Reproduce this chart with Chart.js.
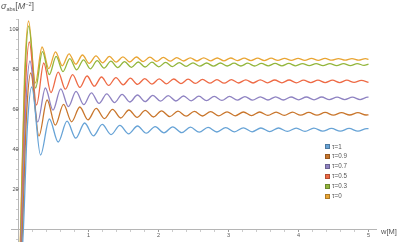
<!DOCTYPE html>
<html><head><meta charset="utf-8">
<script src="https://cdn.jsdelivr.net/npm/chart.js@4.4.1/dist/chart.umd.min.js"></script>
<style>
html,body{margin:0;padding:0;background:#fff;width:399px;height:242px;overflow:hidden;font-family:"Liberation Sans",Arial,sans-serif}
#wrap{position:relative;width:399px;height:242px}
#c{position:absolute;left:0;top:0}
.lbl{position:absolute;color:#555;white-space:nowrap;line-height:1}
.lbl sub,.lbl sup{font-size:5.5px;line-height:0}
.lbl sub{vertical-align:-1.5px}
.lbl sup{vertical-align:3.5px}
.leg{position:absolute;left:325px;height:6px;font-size:6.3px;color:#555;white-space:nowrap;line-height:6px}
.leg span{display:inline-block;width:5px;height:5px;vertical-align:top;margin-right:2px;margin-top:0.5px;box-sizing:border-box}
</style>
</head><body>
<div id="wrap">
<canvas id="c" width="399" height="242"></canvas>
<div class="lbl" style="left:1px;top:2px;font-size:9px"><i>σ</i><sub>abs</sub>[<i>M</i><sup>−2</sup>]</div>
<div class="lbl" style="left:381px;top:228px;font-size:7.5px">w[M]</div>
</div>
<script>
// Data: extrema of each curve, w in units 1/M
const legendLabels = ['τ=1','τ=0.9','τ=0.7','τ=0.5','τ=0.3','τ=0'];

const wTau1 = [0,0.070,0.125,0.189,0.315,0.441,0.567,0.693,0.819,0.945,1.071,1.196,1.322,1.448,1.574,1.700,1.826,1.952,2.078,2.204,2.330,2.456,2.582,2.708,2.834,2.960,3.086,3.212,3.337,3.463,3.589,3.715,3.841,3.967,4.093,4.219,4.345,4.471,4.597,4.723,4.849,4.975,5.0];
const sTau1 = [-40,0,50,71,37,55.0,43.5,53.9,45.4,53.0,46.6,52.3,47.2,51.8,47.6,51.5,47.9,51.2,48.1,51.1,48.2,50.9,48.4,50.8,48.5,50.7,48.6,50.6,48.6,50.5,48.7,50.5,48.8,50.4,48.8,50.4,48.9,50.3,48.9,50.3,48.9,50.2,50.2];

const wTau09 = [0,0.058,0.112,0.175,0.292,0.409,0.526,0.643,0.759,0.876,0.993,1.110,1.227,1.344,1.460,1.577,1.694,1.811,1.928,2.044,2.161,2.278,2.395,2.512,2.629,2.745,2.862,2.979,3.096,3.213,3.329,3.446,3.563,3.680,3.797,3.914,4.030,4.147,4.264,4.381,4.498,4.615,4.731,4.848,4.965,5.0];
const sTau09 = [-40,0,55,78,46.5,64.5,51.9,62.3,53.6,61.0,54.6,60.3,55.2,59.8,55.5,59.5,55.8,59.3,56.0,59.1,56.2,58.9,56.4,58.8,56.5,58.7,56.6,58.6,56.6,58.5,56.7,58.5,56.8,58.4,56.8,58.4,56.9,58.3,56.9,58.3,56.9,58.2,57.0,58.2,57.0,57.1];

const wTau07 = [0,0.048,0.103,0.164,0.274,0.384,0.493,0.603,0.713,0.822,0.932,1.042,1.151,1.261,1.371,1.480,1.590,1.700,1.809,1.919,2.029,2.138,2.248,2.358,2.467,2.577,2.686,2.796,2.906,3.015,3.125,3.235,3.344,3.454,3.564,3.673,3.783,3.893,4.002,4.112,4.222,4.331,4.441,4.551,4.660,4.770,4.879,4.989,5.0];
const sTau07 = [-40,0,60,84,53.5,70.5,59.4,70.1,61.2,68.8,62.2,68.1,62.8,67.6,63.2,67.3,63.5,67.0,63.7,66.8,63.9,66.7,64.0,66.5,64.1,66.4,64.2,66.3,64.3,66.3,64.4,66.2,64.4,66.1,64.5,66.1,64.5,66.0,64.6,66.0,64.6,66.0,64.7,65.9,64.7,65.9,64.7,65.9,65.88];

const wTau05 = [0,0.040,0.095,0.155,0.258,0.361,0.464,0.567,0.670,0.773,0.876,0.979,1.083,1.186,1.289,1.392,1.495,1.598,1.701,1.804,1.907,2.010,2.113,2.217,2.320,2.423,2.526,2.629,2.732,2.835,2.938,3.041,3.144,3.247,3.351,3.454,3.557,3.660,3.763,3.866,3.969,4.072,4.175,4.278,4.381,4.485,4.588,4.691,4.794,4.897,5.0];
const sTau05 = [-40,0,67,93.5,62,83.0,68.2,78.4,69.9,77.2,70.8,76.5,71.4,76.0,71.8,75.7,72.1,75.4,72.3,75.2,72.4,75.1,72.6,75.0,72.7,74.9,72.8,74.8,72.9,74.7,72.9,74.7,73.0,74.6,73.0,74.6,73.1,74.5,73.1,74.5,73.1,74.4,73.2,74.4,73.2,74.4,73.2,74.4,73.3,74.3,73.3];

const wTau03 = [0,0.033,0.088,0.147,0.244,0.342,0.440,0.538,0.635,0.733,0.831,0.929,1.026,1.124,1.222,1.320,1.417,1.515,1.613,1.711,1.808,1.906,2.004,2.102,2.199,2.297,2.395,2.493,2.590,2.688,2.786,2.884,2.981,3.079,3.177,3.275,3.372,3.470,3.568,3.666,3.763,3.861,3.959,4.057,4.154,4.252,4.350,4.448,4.545,4.643,4.741,4.839,4.936,5.0];
const sTau03 = [-40,0,73,101.5,70.5,88.7,77.2,86.3,78.7,85.2,79.6,84.6,80.1,84.2,80.4,83.9,80.7,83.7,80.8,83.5,81.0,83.4,81.1,83.3,81.2,83.2,81.3,83.1,81.4,83.0,81.4,83.0,81.5,82.9,81.5,82.9,81.5,82.8,81.6,82.8,81.6,82.8,81.6,82.7,81.7,82.7,81.7,82.7,81.7,82.7,81.7,82.7,81.8,82.4];

const wTau0 = [0,0.030,0.085,0.144,0.241,0.337,0.433,0.529,0.625,0.722,0.818,0.914,1.010,1.107,1.203,1.299,1.395,1.492,1.588,1.684,1.780,1.877,1.973,2.069,2.165,2.261,2.358,2.454,2.550,2.646,2.743,2.839,2.935,3.031,3.128,3.224,3.320,3.416,3.512,3.609,3.705,3.801,3.897,3.994,4.090,4.186,4.282,4.379,4.475,4.571,4.667,4.764,4.860,4.956,5.0];
const sTau0 = [-40,0,75,104,73,91,80.2,88.6,81.6,87.6,82.4,87.0,82.8,86.6,83.1,86.3,83.4,86.1,83.5,86.0,83.7,85.9,83.8,85.8,83.9,85.7,84.0,85.6,84.0,85.6,84.1,85.5,84.1,85.5,84.2,85.4,84.2,85.4,84.2,85.4,84.3,85.3,84.3,85.3,84.3,85.3,84.3,85.3,84.4,85.2,84.4,85.2,84.4,85.2,84.85];

// Styling
const seriesW = [wTau1,wTau09,wTau07,wTau05,wTau03,wTau0];
const seriesS = [sTau1,sTau09,sTau07,sTau05,sTau03,sTau0];
const colors = ['#67a3d6','#c9762c','#8f83c2','#ee6a45','#93b63c','#e9a534'];

const datasets = seriesW.map((w,i)=>({
  label: legendLabels[i],
  data: w.map((x,k)=>({x:x,y:seriesS[i][k]})),
  borderColor: colors[i],
  backgroundColor: colors[i],
  borderWidth: 1.3,
  pointRadius: 0,
  fill: false,
  cubicInterpolationMode: 'monotone'
}));

const FONT = {family:'"Liberation Sans", Arial, sans-serif', size:5.5};
const isWhole = v => Math.abs(v-Math.round(v))<1e-6;
const noPad = s => { s.paddingTop = 0; s.paddingBottom = 0; s.paddingLeft = 0; s.paddingRight = 0; };

new Chart(document.getElementById('c'), {
  type: 'line',
  data: {datasets},
  options: {
    responsive: false,
    devicePixelRatio: 1,
    animation: false,
    layout: {padding: {left:11.5, right:22.1, top:19, bottom:0}},
    plugins: {legend:{display:false}, tooltip:{enabled:false}},
    scales: {
      x: {
        type: 'linear', position: {y: 0}, min: -0.1, max: 5.12,
        afterFit: noPad,
        ticks: {stepSize: 0.2, includeBounds: false, autoSkip: false, maxRotation: 0, padding: 1, color: '#555', font: FONT,
          callback: v => (isWhole(v) && Math.round(v)>0) ? String(Math.round(v)) : ''},
        grid: {display: true, drawOnChartArea: false, drawTicks: true, tickLength: 2,
          tickColor: c => isWhole(c.tick.value) ? '#999' : '#ccc'},
        border: {display: true, color: '#b5b5b5', width: 1}
      },
      y: {
        type: 'linear', position: {x: 0}, min: -6.5, max: 105,
        afterFit: noPad,
        ticks: {stepSize: 5, includeBounds: false, autoSkip: false, padding: 2, color: '#555', font: FONT,
          callback: v => (v>0 && Math.abs(v%20)<1e-6) ? String(v) : ''},
        grid: {display: true, drawOnChartArea: false, drawTicks: true, tickLength: 2,
          tickColor: c => (Math.abs(c.tick.value%20)<1e-6) ? '#999' : '#ccc'},
        border: {display: true, color: '#b5b5b5', width: 1}
      }
    }
  }
});

// HTML legend
const wrap = document.getElementById('wrap');
legendLabels.forEach((t,i)=>{
  const d = document.createElement('div');
  d.className = 'leg';
  d.style.top = (143.5 + i*9.9) + 'px';
  const sq = document.createElement('span');
  sq.style.background = colors[i];
  sq.style.border = '0.5px solid rgba(0,0,0,0.25)';
  d.appendChild(sq);
  d.appendChild(document.createTextNode(t));
  wrap.appendChild(d);
});
</script>
</body></html>
